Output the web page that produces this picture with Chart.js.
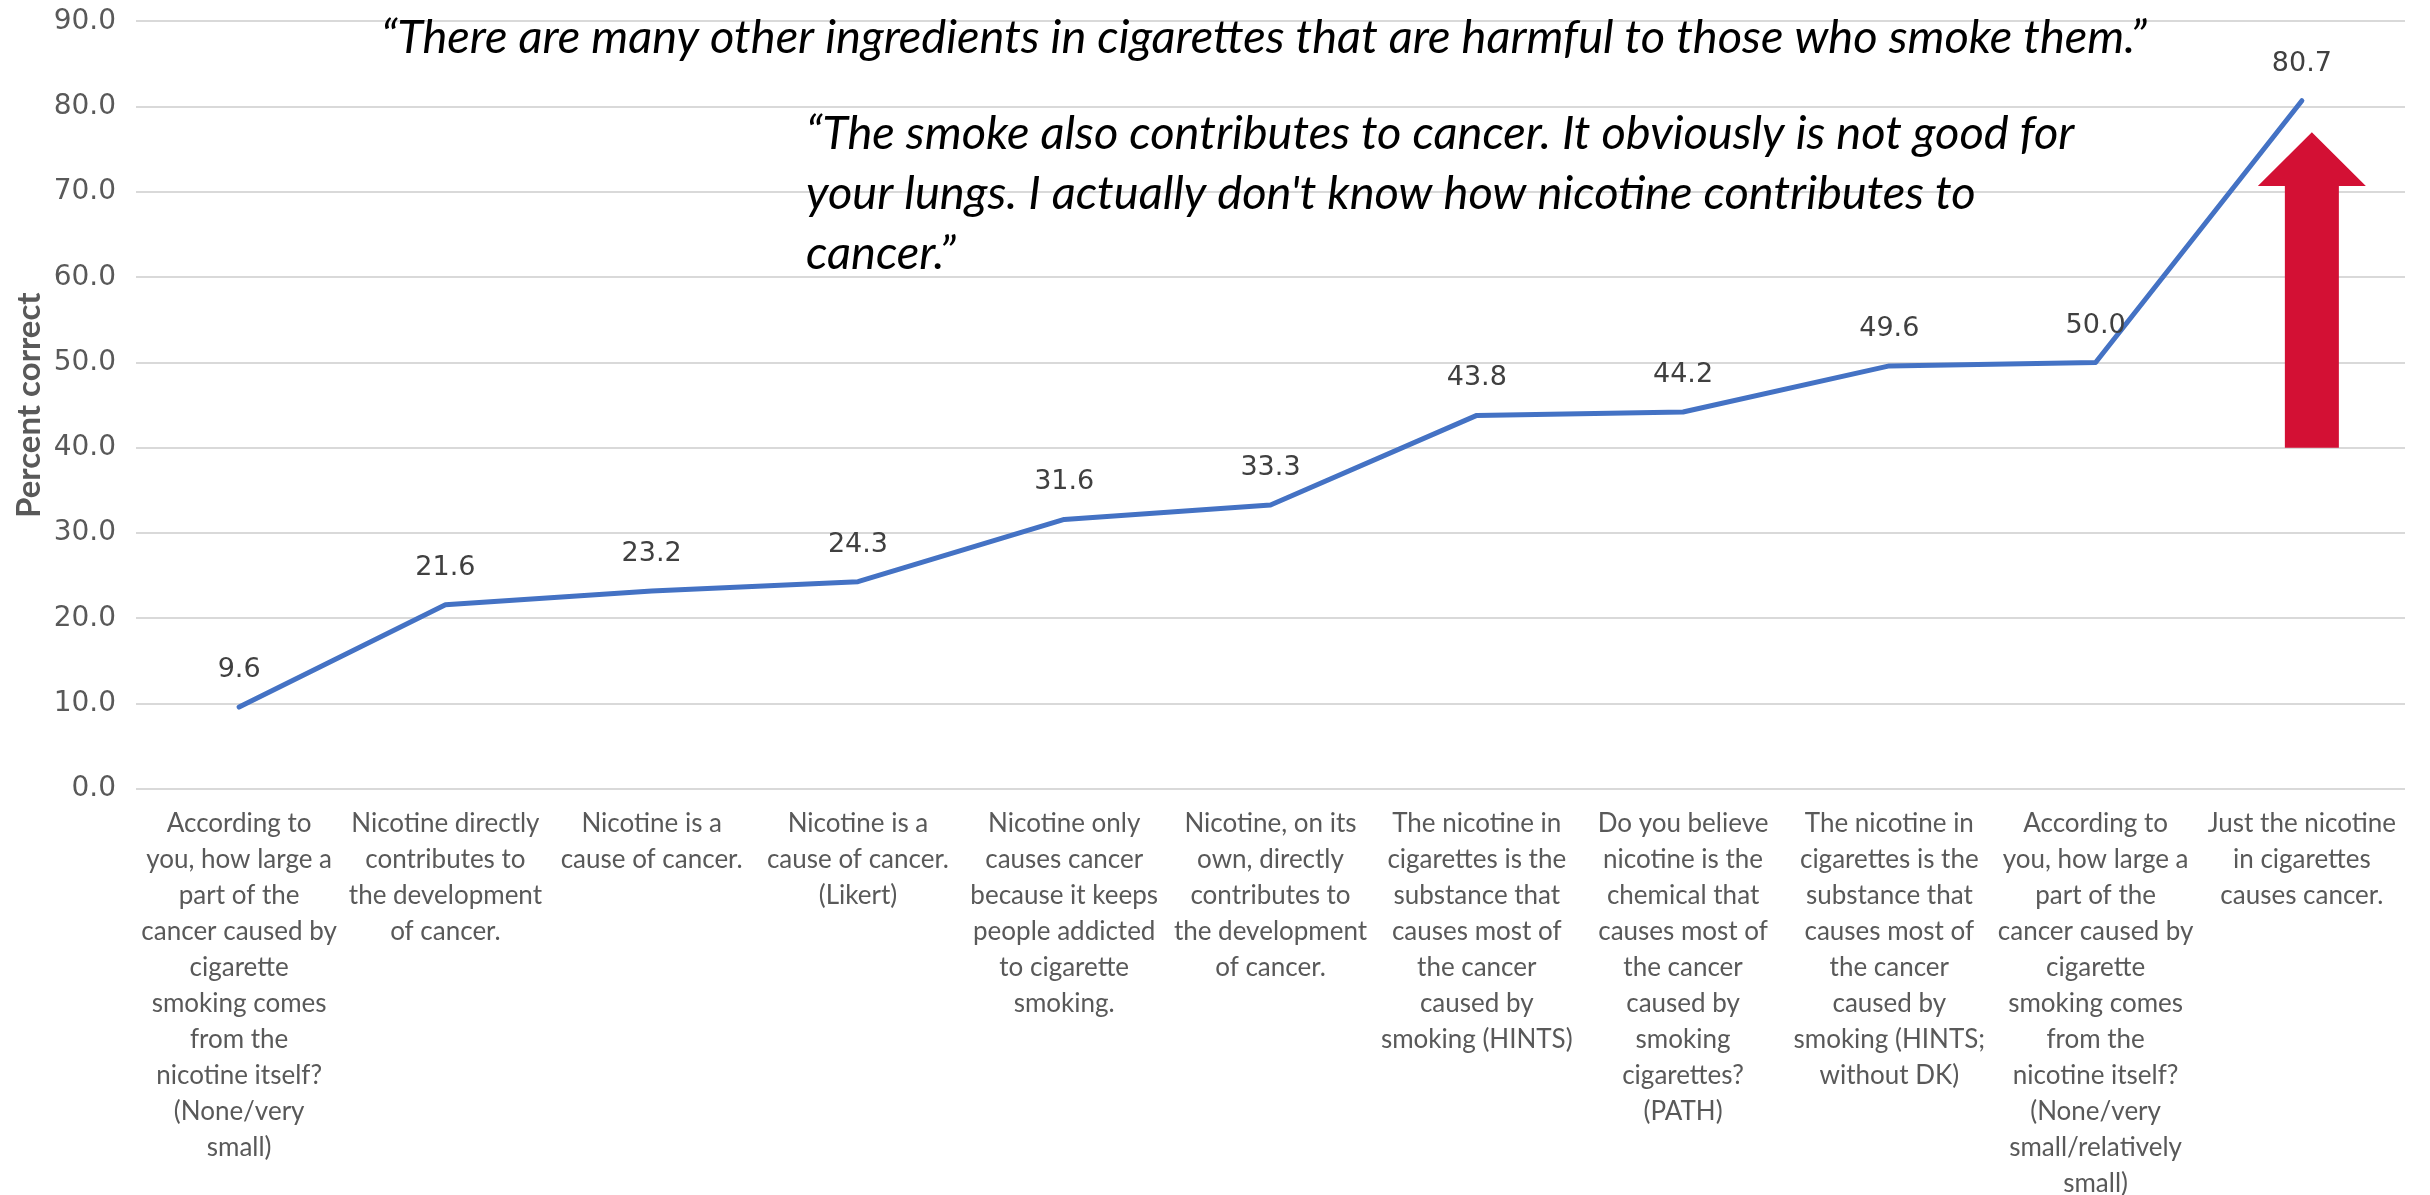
<!DOCTYPE html>
<html>
<head>
<meta charset="utf-8">
<script src="https://cdn.jsdelivr.net/npm/chart.js@4"></script>
<style>
  html, body { margin: 0; padding: 0; background: #fff; }
  #wrap { width: 2430px; height: 1195px; }
</style>
</head>
<body>
<div id="wrap"><canvas id="myChart"></canvas></div>
<script>
// categories (pre-wrapped like the original axis)
const categories = [
  ["According to", "you, how large a", "part of the", "cancer caused by", "cigarette", "smoking comes", "from the", "nicotine itself?", "(None/very", "small)"],
  ["Nicotine directly", "contributes to", "the development", "of cancer."],
  ["Nicotine is a", "cause of cancer."],
  ["Nicotine is a", "cause of cancer.", "(Likert)"],
  ["Nicotine only", "causes cancer", "because it keeps", "people addicted", "to cigarette", "smoking."],
  ["Nicotine, on its", "own, directly", "contributes to", "the development", "of cancer."],
  ["The nicotine in", "cigarettes is the", "substance that", "causes most of", "the cancer", "caused by", "smoking (HINTS)"],
  ["Do you believe", "nicotine is the", "chemical that", "causes most of", "the cancer", "caused by", "smoking", "cigarettes?", "(PATH)"],
  ["The nicotine in", "cigarettes is the", "substance that", "causes most of", "the cancer", "caused by", "smoking (HINTS;", "without DK)"],
  ["According to", "you, how large a", "part of the", "cancer caused by", "cigarette", "smoking comes", "from the", "nicotine itself?", "(None/very", "small/relatively", "small)"],
  ["Just the nicotine", "in cigarettes", "causes cancer."]
];
const percentCorrect = [9.6, 21.6, 23.2, 24.3, 31.6, 33.3, 43.8, 44.2, 49.6, 50.0, 80.7];
const yMin = 0;
const yMax = 90;
const yStep = 10;

const quoteOne = ["\u201CThere are many other ingredients in cigarettes that are harmful to those who smoke them.\u201D"];
const quoteTwo = [
  "\u201CThe smoke also contributes to cancer. It obviously is not good for",
  "your lungs. I actually don't know how nicotine contributes to",
  "cancer.\u201D"
];

// red arrow next to the last point, in data units
const arrowFrom = 40;
const arrowHeadAt = 70.7;
const arrowTo = 77;

const valueLabels = {
  id: "valueLabels",
  afterDatasetsDraw(chart) {
    const ctx = chart.ctx;
    const meta = chart.getDatasetMeta(0);
    ctx.save();
    ctx.font = '27px "DejaVu Sans"';
    ctx.fillStyle = "#404040";
    ctx.textAlign = "center";
    ctx.textBaseline = "middle";
    meta.data.forEach((pt, i) => {
      ctx.fillText(percentCorrect[i].toFixed(1), pt.x, pt.y - 37);
    });
    ctx.restore();
  },
};

const extras = {
  id: "extras",
  afterDraw(chart) {
    const ctx = chart.ctx;
    const x = chart.scales.x;
    const y = chart.scales.y;

    // arrow
    const cx = x.getPixelForValue(percentCorrect.length - 1) + 10;
    const yBottom = y.getPixelForValue(arrowFrom);
    const yHead = y.getPixelForValue(arrowHeadAt);
    const yTip = y.getPixelForValue(arrowTo);
    ctx.save();
    ctx.fillStyle = "#D31034";
    ctx.beginPath();
    ctx.moveTo(cx - 27, yBottom);
    ctx.lineTo(cx - 27, yHead);
    ctx.lineTo(cx - 54, yHead);
    ctx.lineTo(cx, yTip);
    ctx.lineTo(cx + 54, yHead);
    ctx.lineTo(cx + 27, yHead);
    ctx.lineTo(cx + 27, yBottom);
    ctx.closePath();
    ctx.fill();

    // quotes
    ctx.fillStyle = "#000";
    ctx.font = 'italic 47px "Lato"';
    ctx.textAlign = "left";
    ctx.textBaseline = "middle";
    quoteOne.forEach((line, i) => ctx.fillText(line, 381, 38 + i * 60));
    quoteTwo.forEach((line, i) => ctx.fillText(line, 806, 134 + i * 60));
    ctx.restore();
  },
};

const ctx = document.getElementById("myChart").getContext("2d");

window.myChart = new Chart(ctx, {
  type: "line",
  data: {
    labels: categories,
    datasets: [
      {
        label: "Percent correct",
        data: percentCorrect,
        borderColor: "#4472C4",
        borderWidth: 5,
        pointRadius: 0,
        tension: 0,
        borderJoinStyle: "round",
        borderCapStyle: "round",
      },
    ],
  },
  options: {
    responsive: true,
    maintainAspectRatio: false,
    animation: false,
    layout: {
      padding: { top: 0, right: 25, bottom: -24, left: 0 },
    },
    scales: {
      x: {
        offset: true,
        grid: { display: false, drawTicks: false },
        border: { display: false },
        ticks: {
          color: "#595959",
          maxRotation: 0,
          autoSkip: false,
          padding: 17,
          font: { family: "Lato", size: 26, lineHeight: 1.385 },
        },
      },
      y: {
        min: yMin,
        max: yMax,
        afterFit: (scale) => {
          scale.width = 136;
        },
        grid: { color: "#D9D9D9", lineWidth: 2, drawTicks: false },
        border: { display: false },
        ticks: {
          stepSize: yStep,
          color: "#595959",
          padding: 20,
          font: { family: "DejaVu Sans", size: 28, lineHeight: 0.1 },
          callback: (v) => Number(v).toFixed(1),
        },
        title: {
          display: true,
          text: "Percent correct",
          color: "#595959",
          padding: { top: 9.5, bottom: 4 },
          font: { family: "Lato", size: 33, weight: "bold" },
        },
      },
    },
    plugins: {
      legend: { display: false },
      tooltip: { enabled: false },
    },
  },
  plugins: [valueLabels, extras],
});
</script>
</body>
</html>
